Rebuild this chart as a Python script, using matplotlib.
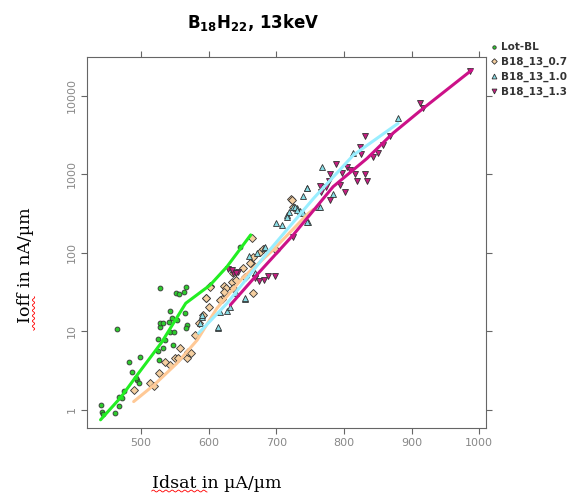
import numpy as np
import matplotlib.pyplot as plt

# Lot-BL
bl_x = [440, 442, 444, 462, 468, 467, 472, 474, 486, 494, 497, 482, 498, 464,
        526, 525, 532, 535, 525, 528, 528, 533, 541, 542, 543, 549, 546, 553,
        568, 566, 565, 528, 551, 556, 563, 566, 547, 492, 646]
bl_y = [1.16, 0.95, 0.89, 0.92, 1.12, 1.48, 1.41, 1.76, 3.07, 2.41, 2.19, 4.05,
        4.78, 10.7, 4.3, 5.65, 6.1, 7.8, 8.0, 11.3, 12.7, 12.7, 13.1, 18.4,
        9.95, 9.8, 14.7, 14.0, 12.1, 11.0, 17.0, 35.5, 30.6, 30.0, 32.0, 37.0,
        6.7, 2.53, 120]
bl_fit_x = [440, 470, 496, 530, 566, 602, 627, 662]
bl_fit_y = [0.75, 1.45, 2.93, 7.2, 22.9, 39, 67, 170]

# B18_13_0.7
b07_x = [489, 513, 519, 527, 535, 543, 550, 555, 558, 568, 570, 574, 580, 585,
         591, 596, 601, 602, 622, 625, 619, 634, 636, 651, 662, 666, 676, 680,
         664, 665, 721, 661, 641, 622, 602, 596, 617, 636, 654, 699, 725, 723]
b07_y = [1.8, 2.19, 2.04, 2.93, 4.13, 3.74, 4.55, 4.55, 6.1, 4.55, 5.53, 5.26,
         9.0, 12.7, 16.2, 26.5, 20.7, 38, 38, 35.5, 25.7, 43, 56, 65, 74, 90,
         104, 112, 154, 30.6, 490, 74, 45, 32, 37, 26.5, 25, 35.5, 50, 109,
         390, 480]
b07_fit_x = [489, 519, 553, 583, 612, 650, 695, 747, 755]
b07_fit_y = [1.28, 2.08, 3.94, 7.8, 19.7, 48, 109, 318, 360]

# B18_13_1.0
b10_x = [613, 587, 590, 617, 627, 654, 641, 669, 660, 671, 682, 654, 632, 614,
         590, 700, 708, 715, 725, 730, 735, 747, 746, 767, 762, 784, 813, 880,
         745, 740, 728, 730, 739, 718, 715, 745, 764, 683]
b10_y = [11, 12.9, 15.5, 17.9, 18.4, 25.7, 30.6, 55, 92, 99, 115, 26.5, 20.7,
         11.5, 16.2, 240, 227, 304, 390, 370, 338, 251, 680, 1230, 390, 565,
         1900, 5200, 665, 535, 390, 355, 323, 336, 289, 251, 390, 120]
b10_fit_x = [585, 627, 686, 755, 814, 880]
b10_fit_y = [9.5, 22.8, 99, 496, 1770, 4480]

# B18_13_1.3
b13_x = [629, 636, 644, 668, 675, 681, 688, 698, 725, 831, 824, 825, 788, 797,
         804, 809, 816, 831, 834, 779, 778, 774, 764, 766, 779, 801, 794, 843,
         851, 858, 819, 868, 913, 917, 987, 634, 641]
b13_y = [62.5, 56, 58, 47.5, 44, 45.4, 51, 51, 162, 3100, 2260, 1810, 1360,
         1050, 1230, 1140, 1000, 1020, 830, 1020, 830, 690, 715, 605, 480, 605,
         735, 1690, 1860, 2380, 830, 3100, 8220, 6940, 20800, 61, 55]
b13_fit_x = [632, 671, 725, 784, 834, 872, 917, 989]
b13_fit_y = [21.8, 52.5, 170, 700, 1600, 3330, 6940, 21400]

labels = ['Lot-BL', 'B18_13_0.7', 'B18_13_1.0', 'B18_13_1.3']
xticks = [500, 600, 700, 800, 900, 1000]
yticks = [1, 10, 100, 1000, 10000]

fig = plt.figure(figsize=(5.88, 4.98), dpi=100)
ax = fig.add_axes([0.148, 0.1406, 0.6785, 0.745])

series = [
    (bl_x, bl_y, bl_fit_x, bl_fit_y, 'o', '#2ecc2e', '#22ee22', 3.5),
    (b07_x, b07_y, b07_fit_x, b07_fit_y, 'D', '#f5cfa0', '#ffc996', 4),
    (b10_x, b10_y, b10_fit_x, b10_fit_y, '^', '#88dde6', '#99eeff', 5),
    (b13_x, b13_y, b13_fit_x, b13_fit_y, 'v', '#c71d82', '#cc1188', 5),
]
handles = []
for (x, y, fx, fy, mk, fc, lc, ms), lab in zip(series, labels):
    h, = ax.plot(x, y, ls='none', marker=mk, ms=ms, mfc=fc, mec='#333333',
                 mew=0.6, label=lab)
    handles.append(h)
for (x, y, fx, fy, mk, fc, lc, ms) in series:
    ax.plot(fx, fy, color=lc, lw=2.2, solid_capstyle='round')

ax.set_yscale('log')
ax.set_xlim(420, 1010)
ax.set_ylim(0.59, 31400)
ax.set_xticks(xticks)
ax.set_xticklabels([str(t) for t in xticks])
ax.set_yticks(yticks)
ax.set_yticklabels([str(t) for t in yticks], rotation=90, va='center')
ax.minorticks_off()
ax.tick_params(which='both', direction='out', length=4, color='#666666',
               labelcolor='#888888', labelsize=8, top=True, right=True,
               labeltop=False, labelright=False)
for s in ax.spines.values():
    s.set_color('#666666')

plt.rcParams['mathtext.default'] = 'regular'
fig.text(0.43, 0.955, r'B$_{18}$H$_{22}$, 13keV', ha='center', va='center',
         fontsize=12, fontweight='bold', family='DejaVu Sans')
fig.text(0.258, 0.03, 'Idsat in \u00b5A/\u00b5m', ha='left', va='center',
         fontsize=12.5, family='DejaVu Serif')
fig.text(0.043, 0.468, 'Ioff in nA/\u00b5m', ha='center', va='center',
         fontsize=12.5, rotation=90, family='DejaVu Serif')

# spell-check squiggles under "Idsat" and "Ioff"
sq = np.linspace(0, 1, 50)
fig.add_artist(plt.Line2D(0.258 + sq * 0.094,
                          0.014 + 0.002 * np.sin(sq * 55),
                          transform=fig.transFigure, color='red', lw=0.6))
fig.add_artist(plt.Line2D(0.057 + 0.002 * np.sin(sq * 40),
                          0.337 + sq * 0.067,
                          transform=fig.transFigure, color='red', lw=0.6))

leg = fig.legend(handles=handles, loc='upper left',
                 bbox_to_anchor=(0.835, 0.915), frameon=False,
                 prop={'size': 7.5, 'weight': 'bold'}, handlelength=0.6,
                 handletextpad=0.4, labelspacing=0.45, markerscale=0.7,
                 borderaxespad=0, borderpad=0)
for t in leg.get_texts():
    t.set_color('#333333')

fig.savefig('out.png', dpi=100)
